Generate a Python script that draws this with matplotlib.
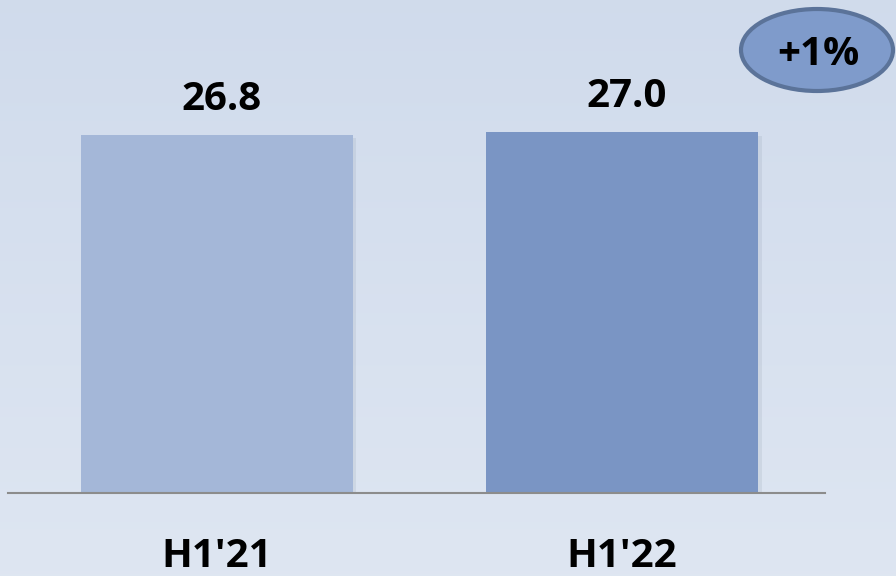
import matplotlib.pyplot as plt
import numpy as np
from matplotlib.patches import Ellipse

periods = ["H1'21", "H1'22"]
values = [26.8, 27.0]
value_labels = ["26.8", "27.0"]
bar_colors = ["#A4B7D8", "#7A95C4"]
change_label = "+1%"

plt.rcParams['font.family'] = ['Open Sans', 'DejaVu Sans']

fig = plt.figure(figsize=(8.96, 5.76), dpi=100)

# soft vertical gradient background
bg = fig.add_axes([0, 0, 1, 1], zorder=-1)
grad = np.linspace(0, 1, 256).reshape(-1, 1)
top = np.array([0.816, 0.859, 0.925])
bottom = np.array([0.871, 0.902, 0.949])
img = top + (bottom - top) * grad[..., None]
bg.imshow(img, aspect='auto', extent=[0, 1, 0, 1])
bg.axis('off')

ax = fig.add_axes([0.0089, 0.144, 0.912, 0.856])
ax.patch.set_alpha(0)
x = np.arange(len(periods))
# faint drop shadow
ax.bar(x + 0.004, np.array(values) + 0.25, bottom=-0.5, width=0.68,
       color="#7d8899", alpha=0.14, zorder=1)
ax.bar(x, values, width=0.672, color=bar_colors, zorder=2)
ax.set_xlim(-0.516, 1.501)
ax.set_ylim(0, 36.9)
ax.axhline(0, color="#8c8c8c", lw=1.5, zorder=3, clip_on=False)

for xi, v, lab in zip(x, values, value_labels):
    ax.text(xi + 0.01, v + 1.9, lab, ha='center', va='baseline', fontsize=29,
            fontweight='bold', color='black')

for xi, p in zip(x, periods):
    ax.text(xi, -5.55, p, ha='center', va='baseline', fontsize=29,
            fontweight='bold', color='black', clip_on=False)

for s in ax.spines.values():
    s.set_visible(False)
ax.set_xticks([])
ax.set_yticks([])

# change bubble in the top right corner
ell = Ellipse((817 / 896, 1 - 50 / 576), 152 / 896, 82 / 576,
              transform=fig.transFigure, facecolor="#7F9BCB",
              edgecolor="#5B7399", lw=3)
fig.patches.append(ell)
fig.text(818 / 896, 1 - 65 / 576, change_label, ha='center', va='baseline',
         fontsize=29, fontweight='bold', color='black')

fig.savefig("out.png", dpi=100)
